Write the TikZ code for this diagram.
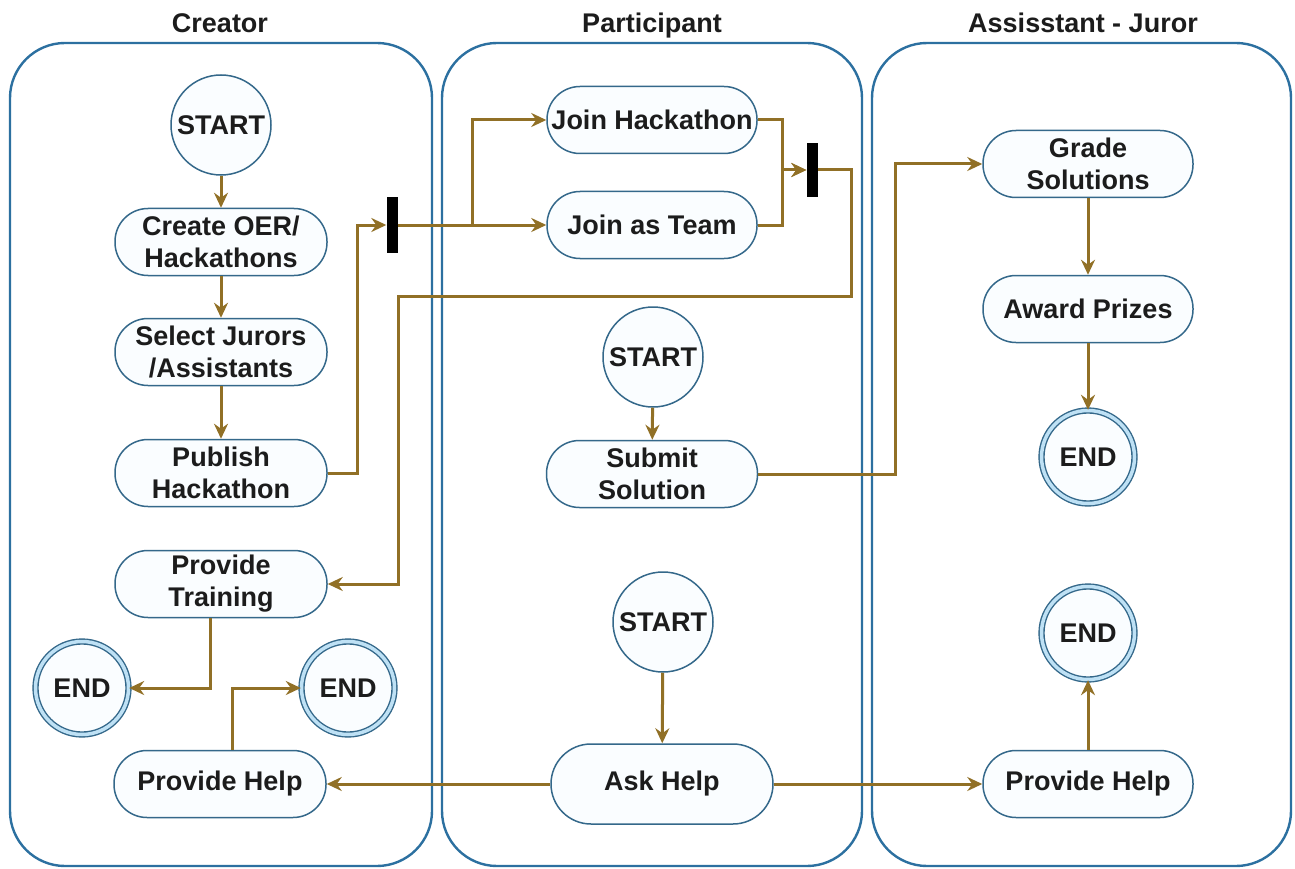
\documentclass[tikz,border=0pt]{standalone}
\usepackage{fontspec}
\setmainfont{Liberation Sans}
\usetikzlibrary{arrows.meta,shapes.geometric}

\definecolor{laneblue}{RGB}{44,112,160}
\definecolor{nodeblue}{RGB}{52,104,138}
\definecolor{nodefill}{RGB}{250,253,255}
\definecolor{ringfill}{RGB}{190,225,245}
\definecolor{flowc}{RGB}{145,112,38}
\definecolor{txt}{RGB}{28,28,28}

\begin{document}
\begin{tikzpicture}[x=1pt,y=-1pt,
  font=\fontsize{27}{32}\selectfont\bfseries, text=txt,
  lane/.style={draw=laneblue, line width=2.4pt, rounded corners=55pt},
  lanetitle/.style={anchor=base},
  action/.style={draw=nodeblue, fill=nodefill, line width=1.5pt, rounded corners=33pt,
    minimum width=212pt, minimum height=67pt, inner sep=0pt, align=center},
  startnode/.style={circle, draw=nodeblue, fill=nodefill, line width=1.5pt,
    minimum size=100pt, inner sep=0pt},
  endnode/.style={circle, draw=nodeblue, double=ringfill, double distance=3.5pt,
    line width=1.4pt, fill=nodefill, minimum size=93pt, inner sep=0pt},
  syncbar/.style={fill=black, minimum width=11pt, minimum height=56pt, inner sep=0pt},
  wire/.style={draw=flowc, line width=3pt},
  flow/.style={wire, -{Stealth[length=15pt,width=14pt,inset=5pt]}}
]
% canvas
\fill[white] (0,0) rectangle (1295,869);
\useasboundingbox (0,0) rectangle (1295,869);

% swimlanes
\draw[lane] (10,43) rectangle (432,866);
\draw[lane] (442,43) rectangle (862,866);
\draw[lane] (872,43) rectangle (1291,866);
\node[lanetitle] (t1) at (220,33) {Creator};
\node[lanetitle] (t2) at (652,33) {Participant};
\node[lanetitle] (t3) at (1083,33) {Assisstant - Juror};

% Creator lane
\node[startnode] (s1) at (221,125) {START};
\node[action] (create) at (221,242) {Create OER/\\Hackathons};
\node[action] (select) at (221,352) {Select Jurors\\/Assistants};
\node[action] (publish) at (221,473) {Publish\\Hackathon};
\node[action] (train) at (221,584) {Provide\\Training};
\node[endnode] (e1) at (82,688) {END};
\node[endnode] (e2) at (348,688) {END};
\node[action] (help1) at (220,784) {Provide Help};

% Participant lane
\node[syncbar] (bar1) at (392,225) {};
\node[action, minimum width=210pt] (jhack) at (652,120) {Join Hackathon};
\node[action, minimum width=210pt] (jteam) at (652,225) {Join as Team};
\node[syncbar, minimum height=54pt] (bar2) at (812,170) {};
\node[startnode] (s2) at (653,357) {START};
\node[action, minimum width=211pt] (submit) at (652,474) {Submit\\Solution};
\node[startnode] (s3) at (663,622) {START};
\node[action, minimum width=222pt, minimum height=80pt, rounded corners=40pt] (ask) at (662,784) {Ask Help};

% Assistant - Juror lane
\node[action, minimum width=210pt] (grade) at (1088,164) {Grade\\Solutions};
\node[action, minimum width=210pt] (award) at (1088,309) {Award Prizes};
\node[endnode] (e3) at (1088,457) {END};
\node[endnode] (e4) at (1088,633) {END};
\node[action, minimum width=210pt] (help3) at (1088,784) {Provide Help};

% routing points
\coordinate (split) at (472,225);
\coordinate (loopA) at (851,296);
\coordinate (loopB) at (398,296);
\coordinate (subturn) at (895,474);

% Creator flow
\draw[flow] (s1) -- (create);
\draw[flow] (create) -- (select);
\draw[flow] (select) -- (publish);
\draw[flow] (publish.east) -- ++(30,0) |- (bar1.west);

% fork into the two join options
\draw[wire] (bar1.east) -- (split);
\draw[flow] (split) -- (jteam.west);
\draw[flow] (split) |- (jhack.west);

% join into the second bar
\draw[flow] (jhack.east) -- ++(25,0) |- (bar2.west);
\draw[flow] (jteam.east) -- ++(25,0) |- (bar2.west);

% back to training
\draw[flow] (bar2.east) -| (loopA) -- (loopB) |- (train.east);
\draw[flow] ([xshift=-11pt]train.south) |- (e1.east);
\draw[flow] ([xshift=12pt]help1.north) |- (e2.west);

% solution submission and grading
\draw[flow] (s2) -- (submit);
\draw[flow] (submit.east) -- (subturn) |- (grade.west);
\draw[flow] (grade) -- (award);
\draw[flow] (award) -- (e3);

% help requests
\draw[flow] (s3) -- (ask);
\draw[flow] (ask.west) -- (help1.east);
\draw[flow] (ask.east) -- (help3.west);
\draw[flow] (help3) -- (e4);
\end{tikzpicture}
\end{document}
